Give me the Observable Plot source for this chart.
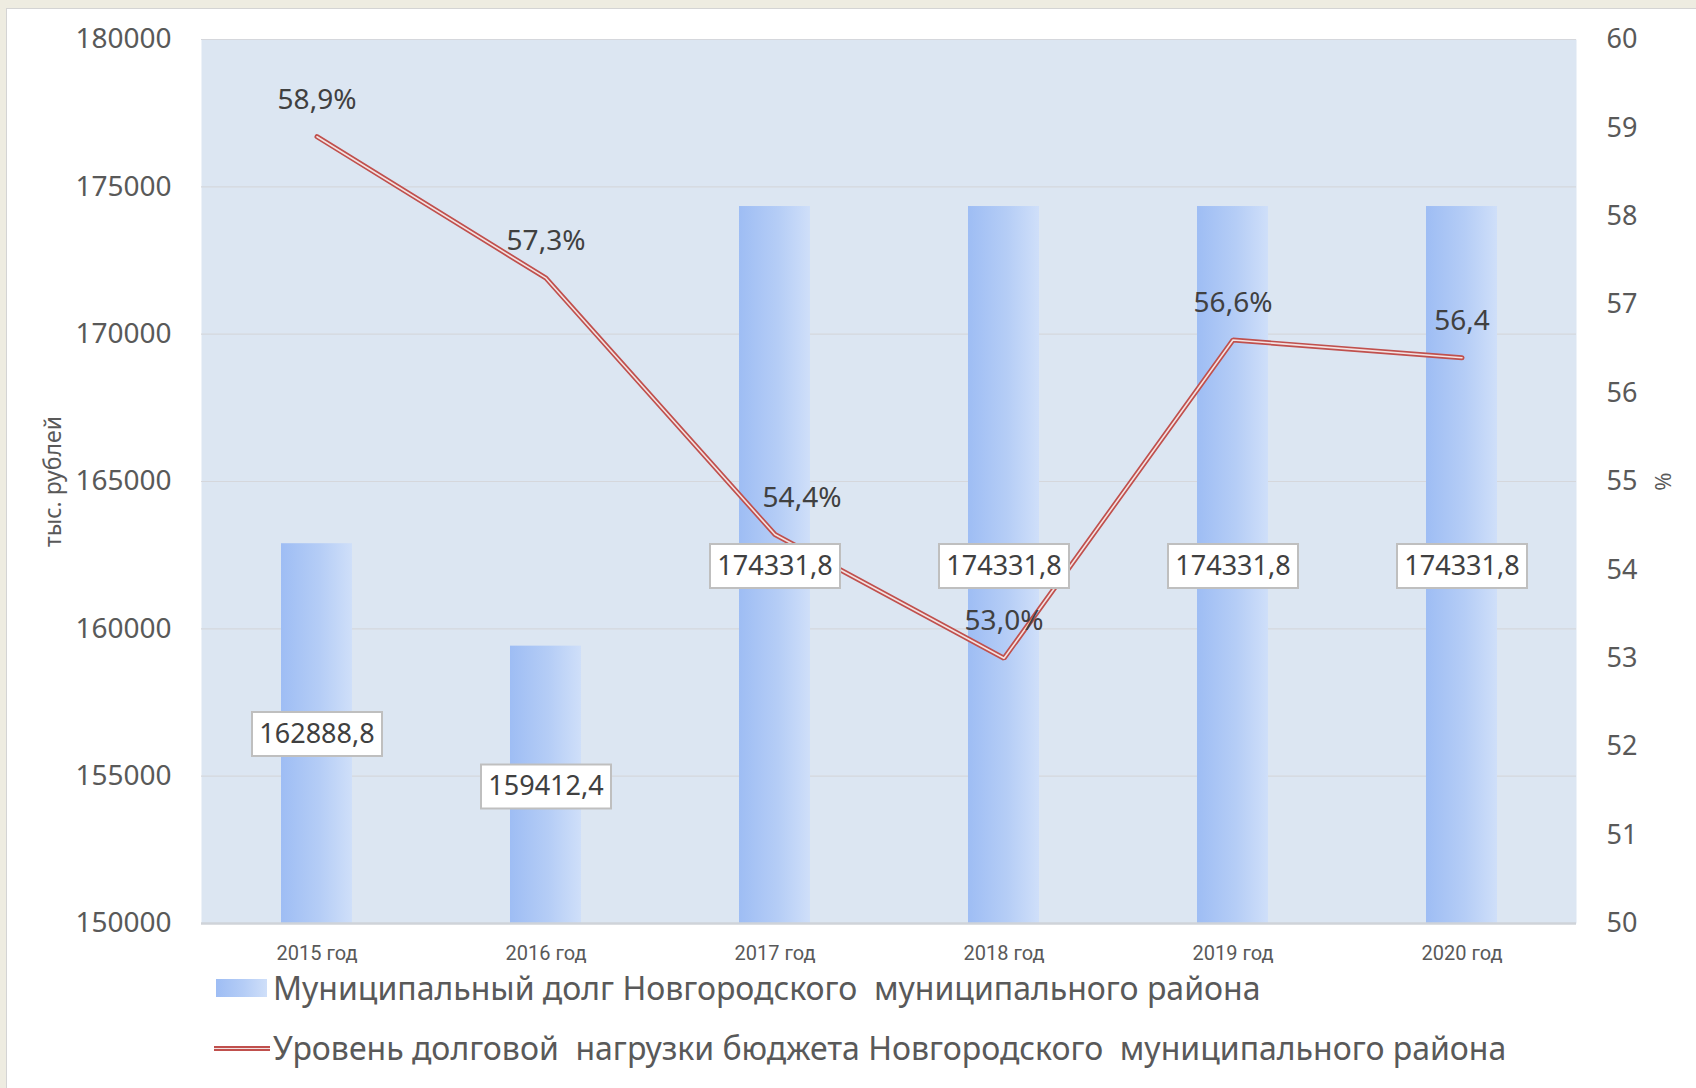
<!DOCTYPE html>
<html>
<head>
<meta charset="utf-8">
<script src="https://cdn.jsdelivr.net/npm/d3@7"></script>
<script src="https://cdn.jsdelivr.net/npm/@observablehq/plot@0.6"></script>
<style>
  html, body { margin: 0; padding: 0; }
  body { width: 1696px; height: 1088px; background: #eeece1; position: relative; overflow: hidden; font-family: "Noto Sans", "Open Sans", sans-serif; }
  #card { position: absolute; left: 6px; top: 8px; right: 0; bottom: 0; background: #ffffff; border-left: 1px solid #d4d4d4; border-top: 1px solid #d4d4d4; }
  #chart { position: absolute; left: 0; top: 0; }
  .leg { position: absolute; left: 0; top: 0; font-family: "Noto Sans", sans-serif; font-size: 32px; color: #595959; white-space: pre; }
  .leg .sw { position: absolute; }
  .leg .txt { position: absolute; line-height: 1; }
</style>
</head>
<body>
<div id="card"></div>
<div id="chart"></div>
<div class="leg" id="legend"></div>
<script>
// ---- data ----
const years = ["2015 год", "2016 год", "2017 год", "2018 год", "2019 год", "2020 год"];
const debt = [162888.8, 159412.4, 174331.8, 174331.8, 174331.8, 174331.8];
const debtLabels = ["162888,8", "159412,4", "174331,8", "174331,8", "174331,8", "174331,8"];
const load = [58.9, 57.3, 54.4, 53.0, 56.6, 56.4];
const loadLabels = ["58,9%", "57,3%", "54,4%", "53,0%", "56,6%", "56,4"];
const yTicks = [150000, 155000, 160000, 165000, 170000, 175000, 180000];
const pctTicks = [50, 51, 52, 53, 54, 55, 56, 57, 58, 59, 60];
const seriesNames = ["Муниципальный долг Новгородского  муниципального района",
                     "Уровень долговой  нагрузки бюджета Новгородского  муниципального района"];

const data = years.map((y, i) => ({year: y, debt: debt[i], debtLabel: debtLabels[i], load: load[i], loadLabel: loadLabels[i], i}));

// secondary axis mapping (percent -> primary scale)
const yMin = 150000, yMax = 180000, pMin = 50, pMax = 60;
const toY = p => yMin + (p - pMin) / (pMax - pMin) * (yMax - yMin);

// layout-only: where the value boxes sit (in primary-axis units)
const boxAt = [156430, 154650, 162130, 162130, 162130, 162130];

const defs = () => {
  const ns = "http://www.w3.org/2000/svg";
  const d = document.createElementNS(ns, "defs");
  d.innerHTML = `
    <linearGradient id="barGrad" x1="0" y1="0" x2="1" y2="0">
      <stop offset="0" stop-color="#9ebdf4"/>
      <stop offset="0.55" stop-color="#b5cdf6"/>
      <stop offset="1" stop-color="#cfdff9"/>
    </linearGradient>`;
  return d;
};

const boxSymbol = {
  draw(ctx) {
    const w = 65, h = 22;
    ctx.moveTo(-w, -h); ctx.lineTo(w, -h); ctx.lineTo(w, h); ctx.lineTo(-w, h); ctx.closePath();
  }
};

const plot = Plot.plot({
  width: 1696,
  height: 975,
  marginLeft: 201,
  marginRight: 120,
  marginTop: 39,
  marginBottom: 52,
  style: {background: "transparent", fontFamily: "Noto Sans, sans-serif"},
  x: {domain: years, paddingInner: 0.69, paddingOuter: 0.345, label: null},
  y: {domain: [yMin, yMax], label: null},
  marks: [
    defs,
    Plot.frame({fill: "#dce6f2", stroke: "none"}),
    Plot.ruleY(yTicks, {stroke: "#d5d7dc", strokeWidth: 1.2}),
    Plot.barY(data, {x: "year", y1: yMin, y2: "debt", fill: "url(#barGrad)"}),
    Plot.ruleY([yMin], {stroke: "#cfd3d9", strokeWidth: 2.5}),
    Plot.line(data, {x: "year", y: d => toY(d.load), stroke: "#c0504d", strokeWidth: 5, strokeLinejoin: "miter"}),
    Plot.line(data, {x: "year", y: d => toY(d.load), stroke: "#f3e3e3", strokeWidth: 1.6, strokeLinejoin: "miter"}),
    Plot.dot(data, {x: "year", y: (d) => boxAt[d.i], symbol: boxSymbol, fill: "white", stroke: "#bfbfbf", strokeWidth: 2}),
    Plot.text(data, {x: "year", y: (d) => boxAt[d.i], text: "debtLabel", fontSize: 27, fill: "#404040"}),
    Plot.text(data.filter(d => d.i !== 2), {x: "year", y: d => toY(d.load), text: "loadLabel", dy: -37, fontSize: 28, fill: "#404040"}),
    Plot.text(data.filter(d => d.i === 2), {x: "year", y: d => toY(d.load), text: "loadLabel", dy: -37, dx: 27, fontSize: 28, fill: "#404040"}),
    Plot.axisY({anchor: "left", ticks: yTicks, tickSize: 0, tickPadding: 30, fontSize: 28, color: "#595959", tickFormat: d => String(d), label: null}),
    Plot.axisY({anchor: "right", ticks: pctTicks.map(toY), tickSize: 0, tickPadding: 30, fontSize: 27, color: "#595959", tickFormat: v => String(Math.round(pMin + (v - yMin) / (yMax - yMin) * (pMax - pMin))), label: null}),
    Plot.axisX({tickSize: 0, tickPadding: 22, fontSize: 20, color: "#595959", label: null, fontFamily: "Liberation Sans Narrow, Roboto, sans-serif"}),
    Plot.text(["тыс. рублей"], {frameAnchor: "left", dx: -148, rotate: -90, textAnchor: "middle", fontSize: 23, fill: "#595959", text: d => d}),
    Plot.text(["%"], {frameAnchor: "right", dx: 87, rotate: -90, textAnchor: "middle", fontSize: 22, fill: "#595959", text: d => d})
  ]
});
document.getElementById("chart").appendChild(plot);

// legend (HTML, below the SVG)
const leg = document.getElementById("legend");
leg.innerHTML = `
  <div class="sw" style="left:216px;top:979px;width:51px;height:18px;background:linear-gradient(90deg,#9ebdf4,#b5cdf6 55%,#cfdff9);"></div>
  <div class="txt" style="left:273px;top:972px;">${seriesNames[0]}</div>
  <div class="sw" style="left:214px;top:1046px;width:56px;height:5px;background:#c0504d;"></div>
  <div class="sw" style="left:214px;top:1047.7px;width:56px;height:1.6px;background:#f3e3e3;"></div>
  <div class="txt" style="left:273px;top:1032px;">${seriesNames[1]}</div>
`;
</script>
</body>
</html>
